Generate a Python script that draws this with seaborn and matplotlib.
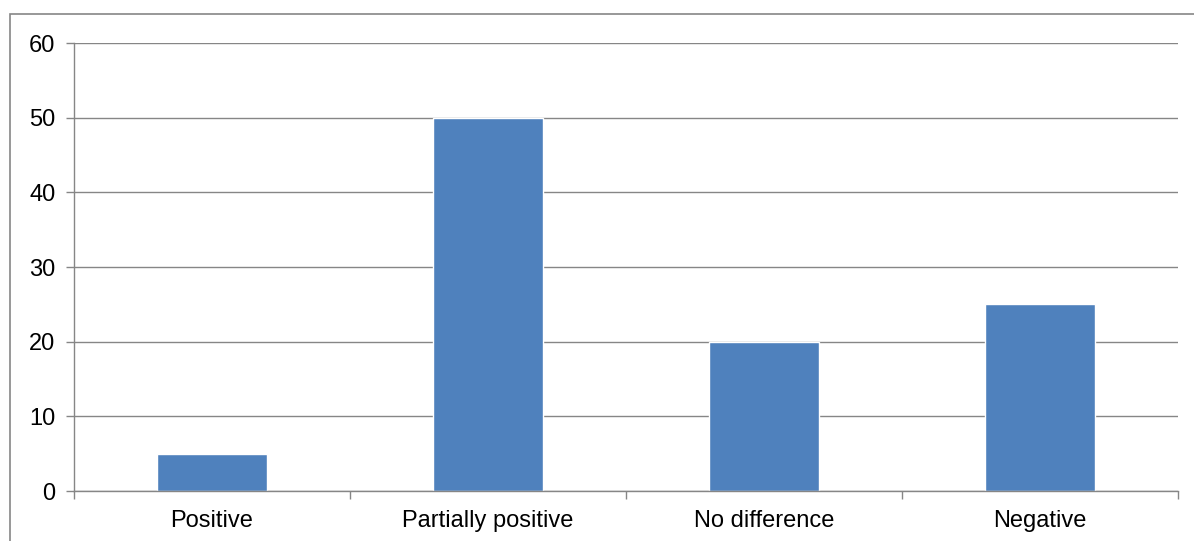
import matplotlib
matplotlib.use('Agg')
import matplotlib.pyplot as plt
import seaborn as sns
import pandas as pd
from matplotlib.patches import Rectangle

# データ
categories = ['Positive', 'Partially positive', 'No difference', 'Negative']
values = [5, 50, 20, 25]

df = pd.DataFrame({'category': categories, 'value': values})

sns.set_style('white')
plt.rcParams['font.family'] = ['Liberation Sans', 'DejaVu Sans']

grid_col = '#868686'

fig = plt.figure(figsize=(11.94, 5.41), dpi=100)
ax = fig.add_axes([74 / 1194, 1 - 491 / 541, (1178 - 74) / 1194, (491 - 43) / 541])

sns.barplot(data=df, x='category', y='value', color='#4F81BD', saturation=1,
            width=0.4, ax=ax, zorder=3)

ax.set_ylim(0, 60)
ax.set_xlim(-0.5, len(categories) - 0.5)
ax.set_yticks(range(0, 61, 10))
ax.set_xlabel('')
ax.set_ylabel('')

# グリッド線
ax.yaxis.grid(True, color=grid_col, linewidth=1.0, zorder=0)
ax.xaxis.grid(False)

for s in ['top', 'right']:
    ax.spines[s].set_visible(False)
for s in ['left', 'bottom']:
    ax.spines[s].set_color(grid_col)
    ax.spines[s].set_linewidth(1.0)
    ax.spines[s].set_zorder(4)

ax.tick_params(axis='y', direction='out', length=6, width=1.0, color=grid_col,
               pad=7.5, labelsize=17, labelcolor='black', left=True)
ax.tick_params(axis='x', which='major', length=0, pad=14, labelsize=17,
               labelcolor='black')
ax.set_xticks([i + 0.5 for i in range(-1, len(categories))], minor=True)
ax.tick_params(axis='x', which='minor', direction='out', length=6, width=1.0,
               color=grid_col, bottom=True)

# 外枠
fig.patches.append(Rectangle((10 / 1194, -0.05), 1.2, 1 - 14 / 541 + 0.05,
                             transform=fig.transFigure, fill=False,
                             edgecolor=grid_col, linewidth=1.2))

fig.savefig('out.png', dpi=100)
